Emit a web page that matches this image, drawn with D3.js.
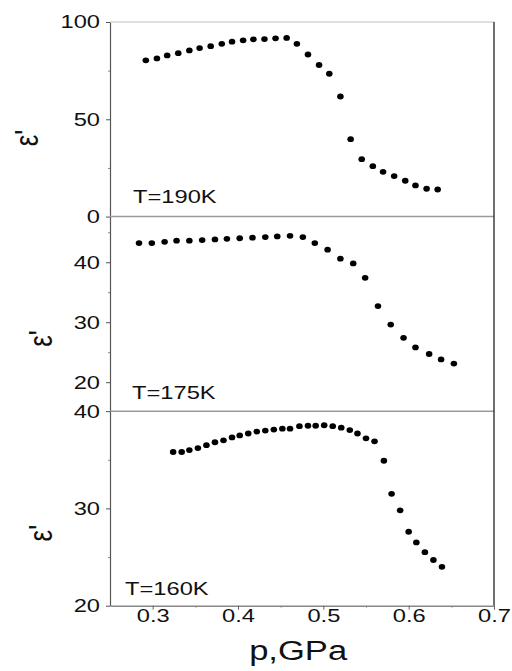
<!DOCTYPE html>
<html>
<head>
<meta charset="utf-8">
<script src="https://cdn.jsdelivr.net/npm/d3@7"></script>
<style>
  body { margin: 0; background: #fff; }
  svg text { font-family: "Liberation Sans", Arial, sans-serif; fill: #111; }
</style>
</head>
<body>
<svg id="chart"></svg>
<script>
// pressure (GPa) and epsilon' per temperature
const p190 = [0.292, 0.305, 0.317, 0.330, 0.343, 0.355, 0.368, 0.381, 0.393, 0.406, 0.418, 0.431, 0.444, 0.457,
  0.469, 0.482, 0.495, 0.507, 0.520, 0.532, 0.545, 0.558, 0.570, 0.583, 0.596, 0.608, 0.621, 0.634];
const e190 = [80.3, 81.3, 82.8, 84.0, 85.4, 86.6, 87.6, 88.8, 89.9, 90.6, 91.1, 91.2, 91.6, 91.8,
  88.8, 83.3, 77.9, 73.4, 61.7, 39.8, 29.5, 25.9, 23.0, 20.8, 18.4, 16.0, 14.3, 13.9];

const p175 = [0.284, 0.299, 0.314, 0.328, 0.343, 0.358, 0.373, 0.387, 0.402, 0.417, 0.432, 0.446, 0.461,
  0.476, 0.490, 0.505, 0.520, 0.535, 0.549, 0.564, 0.579, 0.594, 0.608, 0.624, 0.638, 0.653];
const e175 = [43.2, 43.2, 43.4, 43.6, 43.6, 43.7, 43.8, 43.9, 44.0, 44.1, 44.2, 44.3, 44.4,
  44.2, 43.2, 42.1, 40.6, 39.8, 37.4, 32.7, 29.6, 27.4, 25.8, 24.7, 23.8, 23.1];

const p160 = [0.324, 0.334, 0.343, 0.353, 0.363, 0.373, 0.383, 0.393, 0.402, 0.412, 0.422, 0.432, 0.442,
  0.452, 0.461, 0.472, 0.482, 0.491, 0.501, 0.511, 0.521, 0.531, 0.540, 0.550, 0.560, 0.571, 0.580,
  0.590, 0.600, 0.609, 0.619, 0.629, 0.639];
const e160 = [35.8, 35.8, 36.0, 36.2, 36.5, 36.8, 37.0, 37.3, 37.5, 37.7, 37.9, 38.0, 38.1,
  38.2, 38.2, 38.45, 38.5, 38.5, 38.55, 38.45, 38.3, 38.05, 37.7, 37.2, 36.9, 34.9, 31.5,
  29.8, 27.6, 26.5, 25.5, 24.7, 24.0];

const xTicks = [0.3, 0.4, 0.5, 0.6, 0.7];
const xMinor = [0.35, 0.45, 0.55, 0.65];

const panels = [
  { label: "T=190K", p: p190, e: e190, domain: [0, 100], ticks: [0, 50, 100], minor: [25, 75], lx: 23, ly: 14 },
  { label: "T=175K", p: p175, e: e175, domain: [15.17, 47.62], ticks: [20, 30, 40], minor: [25, 35, 45], lx: 22, ly: 12 },
  { label: "T=160K", p: p160, e: e160, domain: [20, 40], ticks: [20, 30, 40], minor: [25, 35], lx: 15, ly: 11 }
];

const W = 512, H = 671;
const margin = { top: 22, right: 18, bottom: 65.3, left: 110 };
const width = W - margin.left - margin.right;
const height = H - margin.top - margin.bottom;
const panelH = height / panels.length;
const stretchK = 1.28; // reference glyphs are wider than Arial

// widen text horizontally to match the original
function stretch(sel) {
  sel.each(function () {
    const w = this.getComputedTextLength();
    d3.select(this).attr("textLength", w * stretchK).attr("lengthAdjust", "spacingAndGlyphs");
  });
}

const svg = d3.select("#chart").attr("width", W).attr("height", H);
const chart = svg.append("g").attr("transform", `translate(${margin.left},${margin.top})`);

const xScale = d3.scaleLinear().domain([0.25, 0.7]).range([0, width]);

panels.forEach((pn, i) => {
  const g = chart.append("g").attr("transform", `translate(0,${i * panelH})`);
  const yScale = d3.scaleLinear().domain(pn.domain).range([panelH, 0]);

  // top boundary line of the panel
  g.append("line")
    .attr("x1", 0).attr("x2", width).attr("y1", 0).attr("y2", 0)
    .attr("stroke", i === 0 ? "#d4d4d4" : "#9a9a9a").attr("stroke-width", 1.5);

  // minor ticks
  g.append("g").call(d3.axisLeft(yScale).tickValues(pn.minor).tickSize(2).tickFormat(""))
    .call(a => a.select(".domain").remove())
    .call(a => a.selectAll("line").attr("stroke", "#888"));

  const yAxisG = g.append("g")
    .call(d3.axisLeft(yScale).tickValues(pn.ticks).tickSize(4).tickPadding(6).tickSizeOuter(0));
  yAxisG.select(".domain").attr("stroke", "#555").attr("stroke-width", 1.2);
  yAxisG.selectAll("line").attr("stroke", "#555");
  yAxisG.selectAll("text").attr("font-size", 18.5).attr("fill", "#111")
    .style("font-family", "'Liberation Sans', Arial, sans-serif").call(stretch);

  g.selectAll("ellipse.dot")
    .data(pn.p.map((p, j) => ({ p, e: pn.e[j] })))
    .join("ellipse")
    .attr("class", "dot")
    .attr("cx", d => xScale(d.p))
    .attr("cy", d => yScale(d.e))
    .attr("rx", 3.3).attr("ry", 2.9)
    .attr("fill", "#000");

  g.append("text")
    .attr("x", pn.lx).attr("y", panelH - pn.ly)
    .attr("font-size", 18.5)
    .text(pn.label).call(stretch);

  g.append("text")
    .attr("transform", `translate(${i === 0 ? -72 : -58},${i === 0 ? 116 : 122}) rotate(-90) scale(1,${stretchK})`)
    .attr("text-anchor", "middle")
    .attr("font-size", 26)
    .text("ε'");
});

// right border
chart.append("line")
  .attr("x1", width).attr("x2", width).attr("y1", 0).attr("y2", height)
  .attr("stroke", "#222").attr("stroke-width", 1.3);

// x axis
chart.append("g").attr("transform", `translate(0,${height})`)
  .call(d3.axisBottom(xScale).tickValues(xMinor).tickSize(2).tickFormat(""))
  .call(a => a.select(".domain").remove())
  .call(a => a.selectAll("line").attr("stroke", "#888"));

const xAxisG = chart.append("g").attr("transform", `translate(0,${height})`)
  .call(d3.axisBottom(xScale).tickValues(xTicks).tickSize(4).tickSizeOuter(0).tickFormat(d3.format(".1f")));
xAxisG.select(".domain").attr("stroke", "#888").attr("stroke-width", 1.5);
xAxisG.selectAll("line").attr("stroke", "#666");
xAxisG.selectAll("text").attr("font-size", 18.5).attr("fill", "#111")
  .style("font-family", "'Liberation Sans', Arial, sans-serif")
  .attr("y", 16.5).attr("dy", null).call(stretch);

chart.append("text")
  .attr("x", width * 0.49).attr("y", height + 54)
  .attr("text-anchor", "middle")
  .attr("font-size", 27)
  .text("p,GPa").call(stretch);
</script>
</body>
</html>
